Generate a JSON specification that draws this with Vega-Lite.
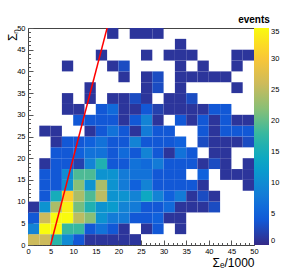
{
  "$schema": "https://vega.github.io/schema/vega-lite/v6.json",
  "width": 226,
  "height": 217,
  "autosize": {"type": "none"},
  "padding": {"left": 28, "top": 28, "right": 29, "bottom": 27},
  "background": "white",
  "config": {
    "view": {"stroke": "#444", "strokeWidth": 1},
    "font": "Liberation Sans",
    "axis": {"labelFont": "Liberation Sans", "titleFont": "Liberation Sans", "labelColor": "#000", "titleColor": "#000", "titleFontWeight": "normal", "domain": false, "grid": false, "tickColor": "#555"},
    "legend": {"padding": 0, "offset": 0}
  },
  "datasets": {
    "cells": [
      {"x":0,"y":0,"n":26},{"x":2.5,"y":0,"n":26},{"x":5,"y":0,"n":17},{"x":7.5,"y":0,"n":10},{"x":10,"y":0,"n":4},{"x":12.5,"y":0,"n":1},{"x":15,"y":0,"n":1},{"x":17.5,"y":0,"n":1},{"x":20,"y":0,"n":1},{"x":22.5,"y":0,"n":1},
      {"x":0,"y":2.5,"n":9},{"x":2.5,"y":2.5,"n":35},{"x":5,"y":2.5,"n":35},{"x":7.5,"y":2.5,"n":18},{"x":10,"y":2.5,"n":18},{"x":12.5,"y":2.5,"n":4},{"x":15,"y":2.5,"n":7},{"x":17.5,"y":2.5,"n":4},{"x":20,"y":2.5,"n":1},{"x":25,"y":2.5,"n":1},{"x":27.5,"y":2.5,"n":4},{"x":32.5,"y":2.5,"n":1},
      {"x":0,"y":5,"n":4},{"x":2.5,"y":5,"n":26},{"x":5,"y":5,"n":35},{"x":7.5,"y":5,"n":35},{"x":10,"y":5,"n":25},{"x":12.5,"y":5,"n":22},{"x":15,"y":5,"n":11},{"x":17.5,"y":5,"n":8},{"x":20,"y":5,"n":8},{"x":22.5,"y":5,"n":4},{"x":25,"y":5,"n":4},{"x":27.5,"y":5,"n":5},{"x":30,"y":5,"n":1},{"x":32.5,"y":5,"n":1},
      {"x":0,"y":7.5,"n":1},{"x":2.5,"y":7.5,"n":11},{"x":5,"y":7.5,"n":24},{"x":7.5,"y":7.5,"n":34},{"x":10,"y":7.5,"n":21},{"x":12.5,"y":7.5,"n":16},{"x":15,"y":7.5,"n":11},{"x":17.5,"y":7.5,"n":12},{"x":20,"y":7.5,"n":9},{"x":22.5,"y":7.5,"n":8},{"x":25,"y":7.5,"n":4},{"x":27.5,"y":7.5,"n":4},{"x":30,"y":7.5,"n":6},{"x":32.5,"y":7.5,"n":1},{"x":35,"y":7.5,"n":1},{"x":37.5,"y":7.5,"n":1},{"x":40,"y":7.5,"n":3},
      {"x":2.5,"y":10,"n":4},{"x":5,"y":10,"n":15},{"x":7.5,"y":10,"n":31},{"x":10,"y":10,"n":24},{"x":12.5,"y":10,"n":19},{"x":15,"y":10,"n":25},{"x":17.5,"y":10,"n":11},{"x":20,"y":10,"n":11},{"x":22.5,"y":10,"n":9},{"x":25,"y":10,"n":14},{"x":27.5,"y":10,"n":9},{"x":30,"y":10,"n":5},{"x":32.5,"y":10,"n":8},{"x":35,"y":10,"n":1},{"x":37.5,"y":10,"n":3},{"x":40,"y":10,"n":1},
      {"x":2.5,"y":12.5,"n":4},{"x":5,"y":12.5,"n":4},{"x":7.5,"y":12.5,"n":11},{"x":10,"y":12.5,"n":22},{"x":12.5,"y":12.5,"n":11},{"x":15,"y":12.5,"n":24},{"x":17.5,"y":12.5,"n":11},{"x":20,"y":12.5,"n":8},{"x":22.5,"y":12.5,"n":5},{"x":25,"y":12.5,"n":9},{"x":27.5,"y":12.5,"n":4},{"x":30,"y":12.5,"n":4},{"x":32.5,"y":12.5,"n":4},{"x":35,"y":12.5,"n":4},{"x":37.5,"y":12.5,"n":1},{"x":47.5,"y":12.5,"n":1},
      {"x":2.5,"y":15,"n":4},{"x":5,"y":15,"n":4},{"x":7.5,"y":15,"n":10},{"x":10,"y":15,"n":19},{"x":12.5,"y":15,"n":19},{"x":15,"y":15,"n":11},{"x":17.5,"y":15,"n":11},{"x":20,"y":15,"n":8},{"x":22.5,"y":15,"n":7},{"x":25,"y":15,"n":7},{"x":27.5,"y":15,"n":4},{"x":30,"y":15,"n":4},{"x":32.5,"y":15,"n":4},{"x":37.5,"y":15,"n":5},{"x":42.5,"y":15,"n":1},{"x":45,"y":15,"n":1},{"x":47.5,"y":15,"n":1},
      {"x":2.5,"y":17.5,"n":1},{"x":5,"y":17.5,"n":4},{"x":7.5,"y":17.5,"n":4},{"x":10,"y":17.5,"n":2},{"x":12.5,"y":17.5,"n":9},{"x":15,"y":17.5,"n":16},{"x":17.5,"y":17.5,"n":4},{"x":20,"y":17.5,"n":4},{"x":22.5,"y":17.5,"n":7},{"x":25,"y":17.5,"n":6},{"x":27.5,"y":17.5,"n":8},{"x":30,"y":17.5,"n":4},{"x":32.5,"y":17.5,"n":4},{"x":35,"y":17.5,"n":4},{"x":37.5,"y":17.5,"n":1},{"x":40,"y":17.5,"n":3},{"x":42.5,"y":17.5,"n":1},{"x":47.5,"y":17.5,"n":1},
      {"x":5,"y":20,"n":4},{"x":7.5,"y":20,"n":4},{"x":10,"y":20,"n":5},{"x":12.5,"y":20,"n":7},{"x":15,"y":20,"n":7},{"x":17.5,"y":20,"n":4},{"x":20,"y":20,"n":6},{"x":22.5,"y":20,"n":4},{"x":25,"y":20,"n":9},{"x":27.5,"y":20,"n":4},{"x":30,"y":20,"n":1},{"x":32.5,"y":20,"n":7},{"x":35,"y":20,"n":4},{"x":40,"y":20,"n":1},{"x":42.5,"y":20,"n":1},
      {"x":5,"y":22.5,"n":1},{"x":7.5,"y":22.5,"n":4},{"x":10,"y":22.5,"n":4},{"x":12.5,"y":22.5,"n":5},{"x":15,"y":22.5,"n":7},{"x":17.5,"y":22.5,"n":4},{"x":20,"y":22.5,"n":4},{"x":22.5,"y":22.5,"n":9},{"x":25,"y":22.5,"n":4},{"x":27.5,"y":22.5,"n":4},{"x":30,"y":22.5,"n":4},{"x":32.5,"y":22.5,"n":5},{"x":37.5,"y":22.5,"n":3},{"x":40,"y":22.5,"n":1},{"x":42.5,"y":22.5,"n":1},{"x":45,"y":22.5,"n":1},{"x":47.5,"y":22.5,"n":3},
      {"x":2.5,"y":25,"n":1},{"x":5,"y":25,"n":1},{"x":12.5,"y":25,"n":1},{"x":15,"y":25,"n":4},{"x":17.5,"y":25,"n":7},{"x":20,"y":25,"n":4},{"x":22.5,"y":25,"n":1},{"x":25,"y":25,"n":8},{"x":27.5,"y":25,"n":4},{"x":30,"y":25,"n":4},{"x":37.5,"y":25,"n":4},{"x":40,"y":25,"n":1},{"x":42.5,"y":25,"n":4},{"x":45,"y":25,"n":4},{"x":47.5,"y":25,"n":4},
      {"x":10,"y":27.5,"n":4},{"x":12.5,"y":27.5,"n":4},{"x":15,"y":27.5,"n":4},{"x":17.5,"y":27.5,"n":4},{"x":20,"y":27.5,"n":1},{"x":22.5,"y":27.5,"n":4},{"x":25,"y":27.5,"n":9},{"x":27.5,"y":27.5,"n":1},{"x":32.5,"y":27.5,"n":4},{"x":35,"y":27.5,"n":1},{"x":37.5,"y":27.5,"n":4},{"x":40,"y":27.5,"n":1},{"x":42.5,"y":27.5,"n":4},{"x":45,"y":27.5,"n":1},{"x":47.5,"y":27.5,"n":1},
      {"x":7.5,"y":30,"n":1},{"x":10,"y":30,"n":1},{"x":15,"y":30,"n":4},{"x":17.5,"y":30,"n":6},{"x":20,"y":30,"n":1},{"x":22.5,"y":30,"n":1},{"x":25,"y":30,"n":4},{"x":27.5,"y":30,"n":2},{"x":30,"y":30,"n":1},{"x":32.5,"y":30,"n":1},{"x":35,"y":30,"n":1},{"x":37.5,"y":30,"n":1},{"x":40,"y":30,"n":4},{"x":42.5,"y":30,"n":4},
      {"x":7.5,"y":32.5,"n":1},{"x":12.5,"y":32.5,"n":1},{"x":17.5,"y":32.5,"n":1},{"x":20,"y":32.5,"n":1},{"x":22.5,"y":32.5,"n":3},{"x":25,"y":32.5,"n":1},{"x":30,"y":32.5,"n":1},{"x":32.5,"y":32.5,"n":1},{"x":35,"y":32.5,"n":3},
      {"x":12.5,"y":35,"n":1},{"x":25,"y":35,"n":1},{"x":27.5,"y":35,"n":3},{"x":32.5,"y":35,"n":1},{"x":45,"y":35,"n":1},
      {"x":20,"y":37.5,"n":1},{"x":25,"y":37.5,"n":1},{"x":27.5,"y":37.5,"n":3},{"x":32.5,"y":37.5,"n":1},{"x":35,"y":37.5,"n":1},{"x":37.5,"y":37.5,"n":1},{"x":40,"y":37.5,"n":1},{"x":42.5,"y":37.5,"n":1},
      {"x":7.5,"y":40,"n":1},{"x":17.5,"y":40,"n":1},{"x":20,"y":40,"n":3},{"x":32.5,"y":40,"n":1},{"x":37.5,"y":40,"n":1},{"x":45,"y":40,"n":1},
      {"x":15,"y":42.5,"n":1},{"x":25,"y":42.5,"n":1},{"x":30,"y":42.5,"n":1},{"x":32.5,"y":42.5,"n":1},{"x":35,"y":42.5,"n":1},{"x":45,"y":42.5,"n":1},{"x":47.5,"y":42.5,"n":1},
      {"x":32.5,"y":45,"n":1},
      {"x":17.5,"y":47.5,"n":1},{"x":22.5,"y":47.5,"n":1},{"x":25,"y":47.5,"n":1},{"x":27.5,"y":47.5,"n":1}
    ],
    "cut": [{"x": 5, "y": 0}, {"x": 17.5, "y": 50}]
  },
  "resolve": {"axis": {"x": "independent", "y": "independent"}},
  "layer": [
    {
      "data": {"name": "cells"},
      "transform": [
        {"bin": {"step": 2.5, "extent": [0, 50]}, "field": "x", "as": ["x0", "x1"]},
        {"bin": {"step": 2.5, "extent": [0, 50]}, "field": "y", "as": ["y0", "y1"]}
      ],
      "mark": {"type": "rect"},
      "encoding": {
        "x": {
          "field": "x0", "type": "quantitative",
          "scale": {"domain": [0, 50], "nice": false},
          "axis": {
            "orient": "bottom",
            "title": "Σₑ/1000",
            "titleFontSize": 12,
            "titleAnchor": "end",
            "titleAlign": "right",
            "titleX": 226,
            "titleY": 21,
            "titleBaseline": "alphabetic",
            "values": [0, 5, 10, 15, 20, 25, 30, 35, 40, 45, 50],
            "labelFontSize": 7.5,
            "labelPadding": 7,
            "labelFlush": false,
            "labelOverlap": false,
            "tickSize": -5
          }
        },
        "x2": {"field": "x1"},
        "y": {
          "field": "y0", "type": "quantitative",
          "scale": {"domain": [0, 50], "nice": false},
          "axis": {
            "orient": "left",
            "title": "Σₙ",
            "titleFontSize": 12,
            "titleAngle": -90,
            "titleAlign": "right",
            "titleBaseline": "alphabetic",
            "titleX": -12,
            "titleY": 0,
            "values": [0, 5, 10, 15, 20, 25, 30, 35, 40, 45, 50],
            "labelFontSize": 7.5,
            "labelPadding": 8,
            "labelFlush": false,
            "labelOverlap": false,
            "tickSize": -5
          }
        },
        "y2": {"field": "y1"},
        "color": {
          "field": "n", "type": "quantitative",
          "scale": {
            "domain": [0, 4.375, 8.75, 13.125, 17.5, 21.875, 26.25, 30.625, 35],
            "range": ["#352a87", "#0f5cdd", "#1481d6", "#06a4ca", "#2eb7a4", "#87bf77", "#d1bb59", "#fec832", "#f9fb0e"],
            "interpolate": "rgb"
          },
          "legend": {
            "title": "events",
            "orient": "none",
            "direction": "vertical",
            "legendX": 210,
            "legendY": -13,
            "padding": 0,
            "titleFontSize": 10,
            "titleFontWeight": "bold",
            "titleFont": "Liberation Sans",
            "titleColor": "#000",
            "titleAnchor": "start",
            "titleAlign": "center",
            "titlePadding": 3,
            "gradientLength": 217,
            "gradientThickness": 15,
            "gradientStrokeWidth": 0,
            "values": [0, 5, 10, 15, 20, 25, 30, 35],
            "labelFontSize": 7.5,
            "labelFont": "Liberation Sans",
            "labelColor": "#000",
            "labelOffset": 2,
            "labelOverlap": false
          }
        }
      }
    },
    {
      "data": {"name": "cut"},
      "mark": {"type": "line", "color": "#ff0000", "strokeWidth": 1.5, "clip": true},
      "encoding": {
        "x": {
          "field": "x", "type": "quantitative",
          "axis": {
            "orient": "bottom",
            "title": null,
            "labels": false,
            "values": [0,1,2,3,4,5,6,7,8,9,10,11,12,13,14,15,16,17,18,19,20,21,22,23,24,25,26,27,28,29,30,31,32,33,34,35,36,37,38,39,40,41,42,43,44,45,46,47,48,49,50],
            "tickSize": -2.5
          }
        },
        "y": {
          "field": "y", "type": "quantitative",
          "axis": {
            "orient": "left",
            "title": null,
            "labels": false,
            "values": [0,1,2,3,4,5,6,7,8,9,10,11,12,13,14,15,16,17,18,19,20,21,22,23,24,25,26,27,28,29,30,31,32,33,34,35,36,37,38,39,40,41,42,43,44,45,46,47,48,49,50],
            "tickSize": -2.5
          }
        }
      }
    }
  ]
}
